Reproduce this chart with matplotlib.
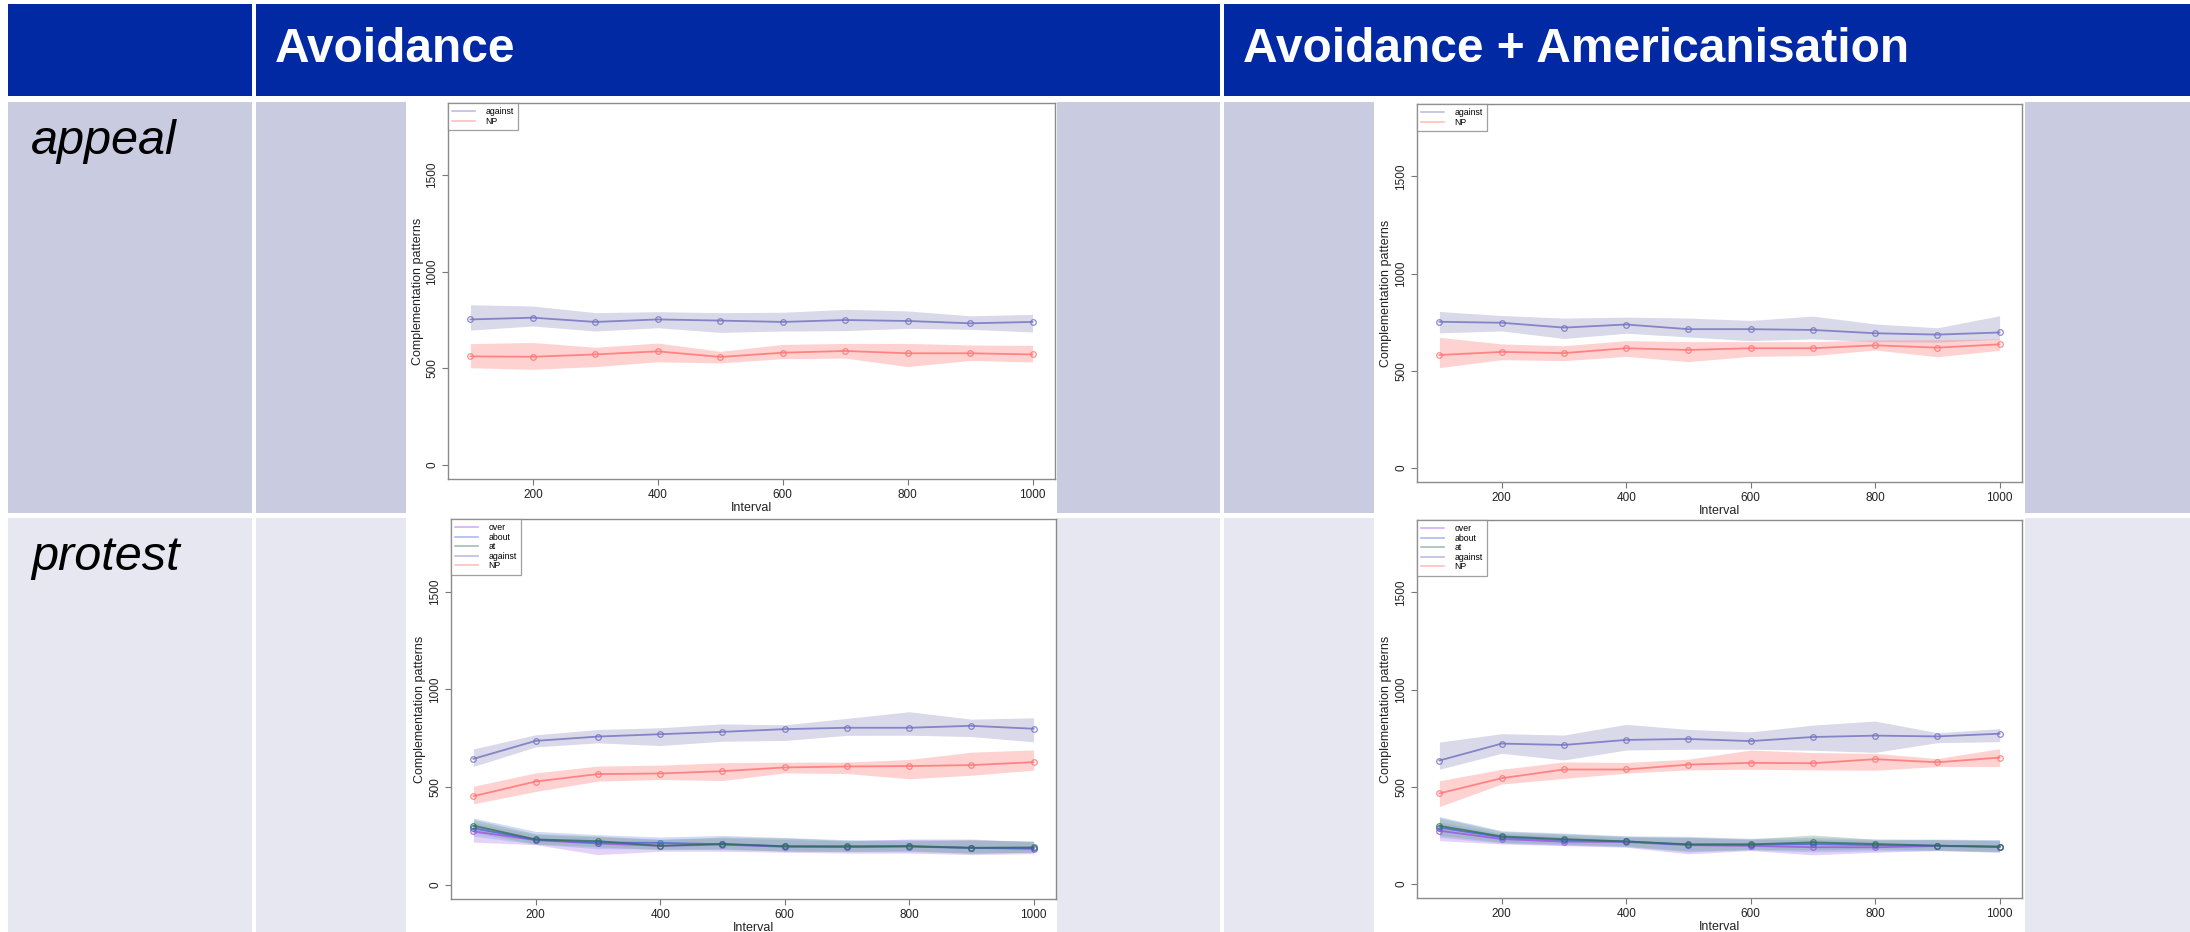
import matplotlib
matplotlib.use("Agg")
import matplotlib.pyplot as plt
from matplotlib.patches import Rectangle
from matplotlib.lines import Line2D

W, H = 2190, 932
plt.rcParams["font.family"] = ["Liberation Sans", "DejaVu Sans"]

columns = ["Avoidance", "Avoidance + Americanisation"]
rows = ["appeal", "protest"]
intervals = [100, 200, 300, 400, 500, 600, 700, 800, 900, 1000]

# appeal / Avoidance
a1_against = [753, 762, 740, 753, 747, 740, 750, 745, 733, 740]
a1_against_hi = [829, 822, 788, 793, 788, 790, 805, 797, 772, 779]
a1_against_lo = [698, 719, 693, 710, 686, 693, 695, 707, 702, 688]
a1_np = [562, 560, 572, 588, 559, 581, 590, 578, 578, 572]
a1_np_hi = [628, 634, 609, 631, 588, 624, 629, 629, 621, 619]
a1_np_lo = [503, 495, 509, 534, 528, 550, 553, 509, 541, 533]

# appeal / Avoidance + Americanisation
a2_against = [752, 747, 722, 738, 714, 714, 710, 693, 686, 697]
a2_against_hi = [805, 784, 771, 776, 771, 759, 781, 741, 721, 783]
a2_against_lo = [695, 705, 666, 693, 674, 655, 664, 650, 647, 662]
a2_np = [581, 597, 591, 616, 607, 616, 616, 631, 619, 636]
a2_np_hi = [672, 638, 629, 655, 650, 650, 650, 659, 660, 664]
a2_np_lo = [516, 557, 552, 574, 547, 574, 578, 607, 572, 605]

# protest / Avoidance
p1_over = [274, 229, 212, 200, 206, 195, 193, 199, 190, 184]
p1_over_hi = [320, 258, 245, 235, 240, 232, 225, 235, 235, 220]
p1_over_lo = [219, 206, 155, 172, 172, 167, 163, 163, 155, 160]
p1_about = [290, 231, 217, 215, 208, 197, 195, 196, 189, 188]
p1_about_hi = [342, 274, 257, 245, 253, 243, 231, 232, 228, 226]
p1_about_lo = [250, 208, 185, 185, 180, 175, 170, 170, 165, 165]
p1_at = [303, 233, 224, 200, 210, 198, 198, 198, 190, 192]
p1_at_hi = [335, 262, 250, 232, 245, 240, 228, 225, 232, 222]
p1_at_lo = [268, 210, 195, 180, 185, 172, 172, 175, 160, 168]
p1_against = [645, 737, 759, 771, 783, 797, 804, 804, 814, 799]
p1_against_hi = [696, 768, 795, 804, 824, 819, 852, 886, 848, 855]
p1_against_lo = [606, 706, 727, 713, 735, 739, 765, 766, 759, 732]
p1_np = [454, 529, 567, 570, 582, 601, 606, 608, 613, 628]
p1_np_hi = [505, 573, 608, 613, 625, 628, 628, 642, 679, 691]
p1_np_lo = [415, 478, 531, 539, 534, 573, 570, 543, 561, 587]

# protest / Avoidance + Americanisation
p2_over = [274, 231, 218, 216, 200, 196, 189, 189, 195, 190]
p2_over_hi = [320, 260, 250, 240, 238, 228, 230, 225, 228, 222]
p2_over_lo = [223, 206, 197, 189, 155, 172, 150, 163, 172, 163]
p2_about = [290, 240, 226, 219, 202, 202, 205, 200, 197, 192]
p2_about_hi = [347, 274, 262, 248, 245, 235, 240, 231, 231, 228]
p2_about_lo = [240, 210, 200, 192, 165, 175, 165, 170, 172, 165]
p2_at = [299, 245, 231, 219, 204, 204, 214, 206, 197, 192]
p2_at_hi = [340, 270, 258, 245, 240, 232, 252, 230, 228, 225]
p2_at_lo = [250, 215, 205, 195, 170, 178, 175, 180, 175, 168]
p2_against = [635, 722, 715, 741, 746, 735, 756, 763, 759, 773]
p2_against_hi = [730, 773, 766, 821, 795, 782, 817, 838, 778, 799]
p2_against_lo = [590, 672, 638, 689, 693, 693, 688, 677, 727, 732]
p2_np = [466, 544, 589, 589, 614, 623, 621, 642, 626, 650]
p2_np_hi = [531, 590, 628, 625, 642, 689, 676, 672, 645, 696]
p2_np_lo = [398, 514, 543, 570, 587, 590, 587, 585, 604, 604]

# colours: (line, band)
COL = {
    "over": ("#a050e8", "#c090f0"),
    "about": ("#4a66d8", "#8aa4f0"),
    "at": ("#2f6f55", "#7faa8f"),
    "against": ("#6f6fbf", "#8c8cc0"),
    "NP": ("#ff7070", "#ff8080"),
}
BAND_ALPHA = {"over": 0.4, "about": 0.4, "at": 0.4, "against": 0.33, "NP": 0.35}


def px_box(l, t, r, b):
    return [l / W, 1 - b / H, (r - l) / W, (b - t) / H]


def draw_panel(fig, box, series):
    ax = fig.add_axes(px_box(*box))
    for name, mean, lo, hi in series:
        line, band = COL[name]
        ax.fill_between(intervals, lo, hi, color=band, alpha=BAND_ALPHA[name],
                        lw=0)
    for name, mean, lo, hi in series:
        line, band = COL[name]
        ax.plot(intervals, mean, color=line, lw=1.3, alpha=0.8, marker="o",
                ms=4, mfc="none", mew=0.9)
    ax.set_xlim(64, 1036)
    ax.set_ylim(-72, 1872)
    ax.set_xticks([200, 400, 600, 800, 1000])
    ax.set_yticks([0, 500, 1000, 1500])
    ax.set_yticklabels(["0", "500", "1000", "1500"], rotation=90, va="center")
    ax.tick_params(labelsize=8.5, colors="#777777", labelcolor="#222222",
                   length=4, width=0.8, pad=3)
    for s in ax.spines.values():
        s.set_color("#8a8a8a")
        s.set_linewidth(1.0)
    ax.set_xlabel("Interval", fontsize=9, labelpad=1, color="#222222")
    ax.set_ylabel("Complementation patterns", fontsize=9, labelpad=2,
                  color="#222222")
    handles = [Line2D([0], [0], color=COL[n][0], lw=1.2, alpha=0.45)
               for n, *_ in series]
    leg = ax.legend(handles, [n for n, *_ in series], loc="upper left",
                    borderaxespad=0, fontsize=6.3, frameon=True, fancybox=False,
                    handlelength=2.6, handletextpad=1.2, labelspacing=0.05,
                    borderpad=0.5)
    leg.get_frame().set_edgecolor("#888888")
    leg.get_frame().set_linewidth(0.9)
    return ax


fig = plt.figure(figsize=(W / 100, H / 100), dpi=100)
bg = fig.add_axes([0, 0, 1, 1])
bg.set_xlim(0, W)
bg.set_ylim(H, 0)
bg.axis("off")

BLUE = "#0029a3"
ROW_COL = ["#c9cbe0", "#e6e7f1"]
ROW_Y = [(102, 513), (518, 932)]
COL_X = [(8, 252), (256, 1220), (1224, 2190)]

# header
for x0, x1 in COL_X:
    bg.add_patch(Rectangle((x0, 4), x1 - x0, 92, color=BLUE, lw=0))
bg.text(275, 62, columns[0], color="white", fontsize=34.5, fontweight="bold",
        va="baseline")
bg.text(1243, 62, columns[1], color="white", fontsize=34.5, fontweight="bold",
        va="baseline")

# row backgrounds and plot "images"
for (y0, y1), c, label in zip(ROW_Y, ROW_COL, rows):
    for x0, x1 in COL_X:
        bg.add_patch(Rectangle((x0, y0), x1 - x0, y1 - y0, color=c, lw=0))
    bg.text(31, y0 + 52, label, fontsize=35, style="italic", va="baseline",
            color="black")
    for x0, x1 in [(406, 1057), (1374, 2025)]:
        bg.add_patch(Rectangle((x0, y0), x1 - x0, y1 - y0, color="white", lw=0))

draw_panel(fig, (448, 103, 1055, 479), [
    ("against", a1_against, a1_against_lo, a1_against_hi),
    ("NP", a1_np, a1_np_lo, a1_np_hi),
])
draw_panel(fig, (1417, 104, 2022, 482), [
    ("against", a2_against, a2_against_lo, a2_against_hi),
    ("NP", a2_np, a2_np_lo, a2_np_hi),
])
draw_panel(fig, (451, 519, 1056, 899), [
    ("over", p1_over, p1_over_lo, p1_over_hi),
    ("about", p1_about, p1_about_lo, p1_about_hi),
    ("at", p1_at, p1_at_lo, p1_at_hi),
    ("against", p1_against, p1_against_lo, p1_against_hi),
    ("NP", p1_np, p1_np_lo, p1_np_hi),
])
draw_panel(fig, (1417, 520, 2022, 898), [
    ("over", p2_over, p2_over_lo, p2_over_hi),
    ("about", p2_about, p2_about_lo, p2_about_hi),
    ("at", p2_at, p2_at_lo, p2_at_hi),
    ("against", p2_against, p2_against_lo, p2_against_hi),
    ("NP", p2_np, p2_np_lo, p2_np_hi),
])

fig.savefig("out.png", dpi=100)
